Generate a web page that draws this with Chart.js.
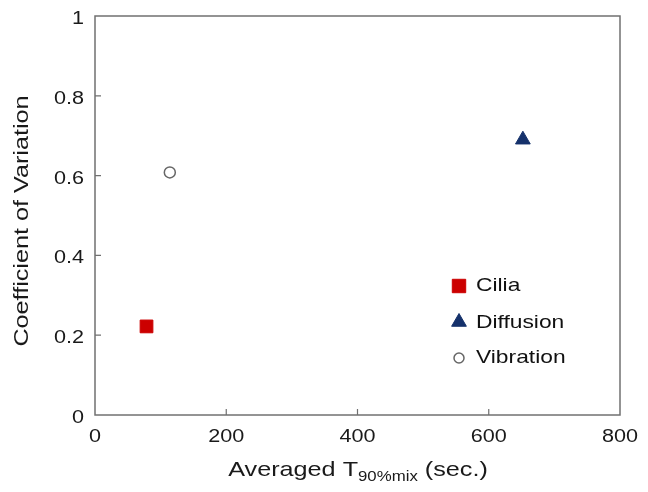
<!DOCTYPE html>
<html>
<head>
<meta charset="utf-8">
<script src="https://cdn.jsdelivr.net/npm/chart.js@4"></script>
<style>
  html, body { margin: 0; padding: 0; background: #fff; }
  #wrap { width: 648px; height: 492px; }
</style>
</head>
<body>
<div id="wrap"><canvas id="chart" width="648" height="492"></canvas></div>
<script>
// data
const seriesNames = ['Cilia', 'Diffusion', 'Vibration'];
const xValues = [78.5, 652, 114];      // averaged T90%mix (sec.)
const yValues = [0.222, 0.69, 0.608];  // coefficient of variation
const xTicks = [0, 200, 400, 600, 800];
const yTicks = [0, 0.2, 0.4, 0.6, 0.8, 1];

const styles = [
    { pointStyle: 'rect', color: '#cc0000', border: '#cc0000', radius: 9, legendRadius: 9.5, width: 1 },
    { pointStyle: 'triangle', color: '#15316b', border: '#15316b', radius: 8.5, legendRadius: 8.5, width: 1 },
    { pointStyle: 'circle', color: '#ffffff', border: '#666666', radius: 5.5, legendRadius: 5, width: 1.5 }
];

const FONT = '"Liberation Sans", Arial, sans-serif';
const STRETCH = 1.2; // the reference lettering is a bit wider than Arial

function stretchedText(ctx, text, x, y, size, align) {
    ctx.save();
    ctx.font = size + 'px ' + FONT;
    ctx.textAlign = align;
    ctx.translate(x, y);
    ctx.scale(STRETCH, 1);
    ctx.fillText(text, 0, 0);
    ctx.restore();
}

// frame, inner ticks, tick labels, axis titles and legend
const decorations = {
    id: 'decorations',
    afterDraw(chart) {
        const { ctx, chartArea: a, scales } = chart;
        ctx.save();
        ctx.strokeStyle = '#707070';
        ctx.lineWidth = 1.5;
        ctx.strokeRect(a.left, a.top, a.right - a.left, a.bottom - a.top);

        ctx.lineWidth = 1.2;
        ctx.beginPath();
        xTicks.slice(1, -1).forEach(v => {
            const px = scales.x.getPixelForValue(v);
            ctx.moveTo(px, a.bottom);
            ctx.lineTo(px, a.bottom - 6);
        });
        yTicks.slice(1, -1).forEach(v => {
            const py = scales.y.getPixelForValue(v);
            ctx.moveTo(a.left, py);
            ctx.lineTo(a.left + 6, py);
        });
        ctx.stroke();

        // tick labels
        ctx.fillStyle = '#1a1a1a';
        ctx.textBaseline = 'middle';
        xTicks.forEach(v => {
            stretchedText(ctx, String(v), scales.x.getPixelForValue(v), 437, 18, 'center');
        });
        yTicks.forEach(v => {
            stretchedText(ctx, String(v), a.left - 11, scales.y.getPixelForValue(v) + 3, 18, 'right');
        });

        // y title
        ctx.save();
        ctx.translate(22, 221);
        ctx.rotate(-Math.PI / 2);
        stretchedText(ctx, 'Coefficient of Variation', 0, 0, 21, 'center');
        ctx.restore();

        // x title with subscript
        const main1 = 'Averaged T', sub = '90%mix', main2 = ' (sec.)';
        ctx.textBaseline = 'alphabetic';
        ctx.font = '21px ' + FONT;
        const w1 = ctx.measureText(main1).width;
        const w3 = ctx.measureText(main2).width;
        ctx.font = '14px ' + FONT;
        const w2 = ctx.measureText(sub).width;
        const total = (w1 + w2 + w3) * STRETCH;
        const x0 = 358 - total / 2;
        const base = 476;
        stretchedText(ctx, main1, x0, base, 21, 'left');
        stretchedText(ctx, sub, x0 + w1 * STRETCH, base + 5, 14, 'left');
        stretchedText(ctx, main2, x0 + (w1 + w2) * STRETCH, base, 21, 'left');

        // legend inside the plot
        const lx = 459, rows = [286, 323, 358];
        seriesNames.forEach((name, i) => {
            const s = styles[i];
            ctx.fillStyle = s.color;
            ctx.strokeStyle = s.border;
            ctx.lineWidth = s.width;
            Chart.helpers.drawPoint(ctx, {
                pointStyle: s.pointStyle,
                radius: s.legendRadius,
                borderWidth: s.width,
                rotation: 0
            }, lx, rows[i] + (s.pointStyle === 'triangle' ? -1 : 0));
            ctx.fillStyle = '#111';
            ctx.textBaseline = 'middle';
            stretchedText(ctx, name, lx + 17, rows[i], 19, 'left');
        });
        ctx.restore();
    }
};

new Chart(document.getElementById('chart'), {
    type: 'scatter',
    data: {
        datasets: seriesNames.map((name, i) => ({
            label: name,
            data: [{ x: xValues[i], y: yValues[i] }],
            pointStyle: styles[i].pointStyle,
            pointRadius: styles[i].radius,
            pointBackgroundColor: styles[i].color,
            pointBorderColor: styles[i].border,
            pointBorderWidth: styles[i].width
        }))
    },
    options: {
        responsive: false,
        animation: false,
        layout: { padding: { left: 0, top: 16, right: 28, bottom: 0 } },
        plugins: { legend: { display: false }, tooltip: { enabled: false } },
        scales: {
            x: {
                type: 'linear',
                min: 0, max: 800,
                afterBuildTicks: s => { s.ticks = xTicks.map(v => ({ value: v })); },
                afterFit: s => { s.height = 77; },
                grid: { display: false },
                border: { display: false },
                ticks: { display: false }
            },
            y: {
                min: 0, max: 1,
                afterBuildTicks: s => { s.ticks = yTicks.map(v => ({ value: v })); },
                afterFit: s => { s.width = 95; },
                grid: { display: false },
                border: { display: false },
                ticks: { display: false }
            }
        }
    },
    plugins: [decorations]
});
</script>
</body>
</html>
